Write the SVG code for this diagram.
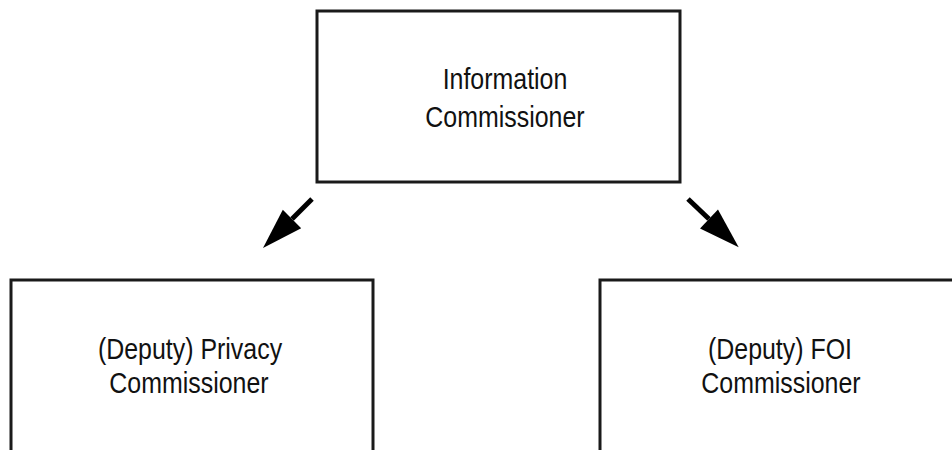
<svg xmlns="http://www.w3.org/2000/svg" width="952" height="450" viewBox="0 0 952 450">
  <style>
    .box { fill: #ffffff; stroke: #1a1a1a; stroke-width: 3; }
    .lbl { font-family: "Liberation Sans", Arial, sans-serif; font-size: 29px; fill: #111111; text-anchor: middle; }
    .conn { stroke: #000000; stroke-width: 5; fill: none; }
  </style>
  <defs>
    <marker id="head" markerUnits="userSpaceOnUse" viewBox="0 -14 42 28" refX="0" refY="0" markerWidth="42" markerHeight="28" orient="auto" overflow="visible">
      <path d="M0,-13 L41,0 L0,13 z" fill="#000000"/>
    </marker>
  </defs>
  <rect width="952" height="450" fill="#ffffff"/>
  <g id="node-information-commissioner">
    <rect class="box" x="317" y="11" width="363" height="171"/>
    <text class="lbl" transform="translate(505,89) scale(0.86,1)">Information</text>
    <text class="lbl" transform="translate(505,127) scale(0.86,1)">Commissioner</text>
  </g>
  <g id="node-privacy-commissioner">
    <rect class="box" x="11" y="280" width="362" height="200"/>
    <text class="lbl" transform="translate(190,359) scale(0.86,1)">(Deputy) Privacy</text>
    <text class="lbl" transform="translate(189,393) scale(0.86,1)">Commissioner</text>
  </g>
  <g id="node-foi-commissioner">
    <rect class="box" x="600" y="280" width="400" height="200"/>
    <text class="lbl" transform="translate(780,359) scale(0.86,1)">(Deputy) FOI</text>
    <text class="lbl" transform="translate(781,393) scale(0.86,1)">Commissioner</text>
  </g>
  <g id="connectors">
    <line class="conn" x1="312" y1="199" x2="292" y2="219" marker-end="url(#head)"/>
    <line class="conn" x1="688" y1="199" x2="709" y2="219" marker-end="url(#head)"/>
  </g>
</svg>
